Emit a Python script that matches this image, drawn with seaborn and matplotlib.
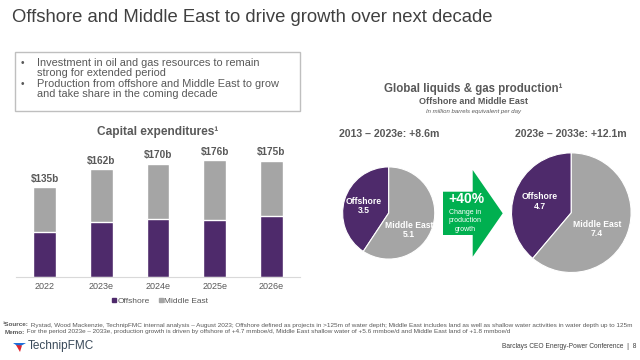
import matplotlib
matplotlib.use("Agg")
import matplotlib.pyplot as plt
import seaborn as sns
import pandas as pd
from matplotlib.patches import Polygon, Rectangle
from matplotlib.lines import Line2D

# ---------------- data ----------------
years = ["2022", "2023e", "2024e", "2025e", "2026e"]
offshore_capex = [68, 82, 87, 85, 91]
middle_east_capex = [67, 80, 83, 91, 84]

pie_labels = ["Offshore", "Middle East"]
prod_2013_2023 = [3.5, 5.1]
prod_2023_2033 = [4.7, 7.4]
pie_titles = ["2013 \u2013 2023e: +8.6m", "2023e \u2013 2033e: +12.1m"]
growth_label = "+40%"

PURPLE = "#4E2A6B"
GRAY = "#A5A5A5"
TXT = "#595959"
GREEN = "#00B050"

sns.set_theme(style="white")
plt.rcParams["font.family"] = ["Liberation Sans", "DejaVu Sans"]

W, H = 640, 360
fig = plt.figure(figsize=(6.4, 3.6), dpi=100)
fig.patch.set_facecolor("white")

# invisible overlay axes for chained texts
ov = fig.add_axes([0, 0, 1, 1], zorder=5)
ov.axis("off")
ov.set_xlim(0, W)
ov.set_ylim(H, 0)


def rect(x0, y0, x1, y1):
    return [x0 / W, 1 - y1 / H, (x1 - x0) / W, (y1 - y0) / H]


def ftext(x, y, s, **kw):
    kw.setdefault("ha", "center")
    kw.setdefault("va", "center")
    return fig.text(x / W, 1 - y / H, s, **kw)


# ---------------- header ----------------
ftext(12, 18, "Offshore and Middle East to drive growth over next decade",
      ha="left", fontsize=13.3, color="#404040")

# bullet box
fig.patches.append(Rectangle((15 / W, 1 - 111 / H), 285 / W, 59 / H,
                             transform=fig.transFigure, fill=False,
                             edgecolor="#BFBFBF", linewidth=1.0))
bul_lines = [("\u2022", "Investment in oil and gas resources to remain", 62.7),
             ("", "strong for extended period", 73.3),
             ("\u2022", "Production from offshore and Middle East to grow", 83.7),
             ("", "and take share in the coming decade", 93.7)]
for b, t, y in bul_lines:
    if b:
        ftext(22, y, b, fontsize=7.2, color=TXT)
    ftext(37, y, t, ha="left", fontsize=7.95, color=TXT)

# ---------------- bar chart ----------------
df = pd.DataFrame({"year": years, "Offshore": offshore_capex,
                   "Middle East": middle_east_capex})
df["total"] = df["Offshore"] + df["Middle East"]

axb = fig.add_axes(rect(16.3, 143.9, 299.7, 276.7))
sns.barplot(data=df, x="year", y="total", color=GRAY, width=0.4,
            saturation=1, ax=axb)
sns.barplot(data=df, x="year", y="Offshore", color=PURPLE, width=0.4,
            saturation=1, ax=axb)
axb.set_ylim(0, 200)
axb.set_xlim(-0.5, 4.5)
axb.set_xlabel("")
axb.set_ylabel("")
axb.set_yticks([])
for s in ["top", "right", "left"]:
    axb.spines[s].set_visible(False)
axb.spines["bottom"].set_color("#D9D9D9")
axb.spines["bottom"].set_linewidth(0.8)
axb.tick_params(axis="x", length=0, pad=4, labelsize=6.5, labelcolor=TXT)
for i, tot in enumerate(df["total"]):
    axb.annotate(f"${tot}b", (i, tot), xytext=(0, 6), textcoords="offset points",
                 ha="center", va="center", fontsize=7.2, fontweight="bold",
                 color=TXT)
axb.patch.set_alpha(0)

ftext(158, 131.7, "Capital expenditures\u00b9", fontsize=8.6,
      fontweight="bold", color=TXT)

handles = [Line2D([], [], marker="s", linestyle="", color=PURPLE, markersize=3.5),
           Line2D([], [], marker="s", linestyle="", color=GRAY, markersize=3.5)]
fig.legend(handles, ["Offshore", "Middle East"], loc="center",
           bbox_to_anchor=(160 / W, 1 - 301 / H), ncol=2, frameon=False,
           fontsize=6, handlelength=0.6, handletextpad=0.1, columnspacing=1.0,
           labelcolor=TXT)

# ---------------- pies ----------------
ftext(473.5, 89, "Global liquids & gas production\u00b9", fontsize=8.3,
      fontweight="bold", color=TXT)
ftext(473.5, 101, "Offshore and Middle East", fontsize=6.5,
      fontweight="bold", color=TXT)
ftext(473.5, 112, "In million barrels equivalent per day", fontsize=4.3,
      style="italic", color=TXT)


def draw_pie(cx, cy, r, vals, title, lab_pos):
    ax = fig.add_axes(rect(cx - r, cy - r, cx + r, cy + r))
    ax.pie(vals, colors=[PURPLE, GRAY], startangle=90, counterclock=True,
           radius=1.0, wedgeprops=dict(edgecolor="white", linewidth=0.8))
    ax.set_xlim(-1.02, 1.02)
    ax.set_ylim(-1.02, 1.02)
    ax.set_aspect("auto")
    ax.axis("off")
    for (lx, ly), name, v in zip(lab_pos, pie_labels, vals):
        ftext(lx, ly, f"{name}\n{v}", fontsize=6.2, fontweight="bold",
              color="white", linespacing=1.1)
    ftext(cx, 134, title, fontsize=7.6, fontweight="bold", color=TXT)


draw_pie(388.7, 213, 47, prod_2013_2023, pie_titles[0],
         [(364, 206), (409, 230)])
draw_pie(571.3, 212.7, 61, prod_2023_2033, pie_titles[1],
         [(540, 201.7), (597, 229)])

# arrow
pts = [(443, 191.7), (472.7, 191.7), (472.7, 170), (502.7, 213.3),
       (472.7, 256.7), (472.7, 235), (443, 235)]
fig.patches.append(Polygon([(x / W, 1 - y / H) for x, y in pts], closed=True,
                           transform=fig.transFigure, facecolor=GREEN,
                           edgecolor="none"))
ftext(466, 199, growth_label, fontsize=10, fontweight="bold", color="white")
ftext(465, 212, "Change in", fontsize=5, color="white")
ftext(465, 221, "production", fontsize=5, color="white")
ftext(465, 230, "growth", fontsize=5, color="white")

# ---------------- footer ----------------
src = (" Rystad, Wood Mackenzie, TechnipFMC internal analysis \u2013 August 2023; "
       "Offshore defined as projects in >125m of water depth; Middle East includes land "
       "as well as shallow water activities in water depth up to 125m")
memo = (" For the period 2023e \u2013 2033e, production growth is driven by offshore of "
        "+4.7 mmboe/d, Middle East shallow water of +5.6 mmboe/d and Middle East land of "
        "+1.8 mmboe/d")
FS = 4.55
s1 = ov.text(3, 325, "\u00b9Source:", ha="left", va="center", fontsize=FS,
             fontweight="bold", color=TXT)
ov.annotate(src, xy=(1, 0.5), xycoords=s1, ha="left", va="center",
            fontsize=FS, color=TXT)
m1 = ov.text(4.5, 332, "Memo:", ha="left", va="center", fontsize=FS,
             fontweight="bold", color=TXT)
ov.annotate(memo, xy=(1, 0.5), xycoords=m1, ha="left", va="center",
            fontsize=FS, color=TXT)

# logo
fig.patches.append(Polygon([(13 / W, 1 - 343 / H), (26 / W, 1 - 343 / H),
                            (19 / W, 1 - 347 / H)], closed=True,
                           transform=fig.transFigure, facecolor="#1E6FD9",
                           edgecolor="none"))
fig.patches.append(Polygon([(16 / W, 1 - 345 / H), (22 / W, 1 - 345.5 / H),
                            (20 / W, 1 - 352 / H)], closed=True,
                           transform=fig.transFigure, facecolor="#E0262F",
                           edgecolor="none"))
ftext(28, 346, "TechnipFMC", ha="left", fontsize=8.5, color="#3A4A5A")
ftext(636, 346, "Barclays CEO Energy-Power Conference  |  8", ha="right",
      fontsize=4.8, color="#404040")

fig.savefig("out.png", dpi=100, facecolor="white")
